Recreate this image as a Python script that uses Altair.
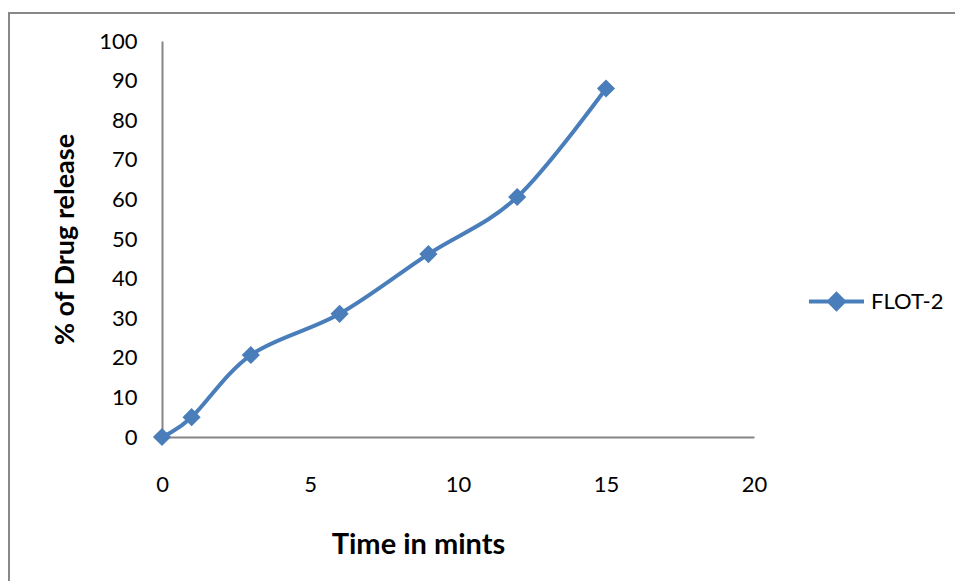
import altair as alt
import pandas as pd

# Dissolution profile of formulation FLOT-2
time_min = [0, 1, 3, 6, 9, 12, 15]
drug_release = [0, 5.0, 20.7, 31.1, 46.2, 60.6, 88.0]
series_name = ["FLOT-2"] * len(time_min)

x_ticks = [0, 5, 10, 15, 20]
y_ticks = [0, 10, 20, 30, 40, 50, 60, 70, 80, 90, 100]

BLUE = "#4A7EBB"
AXIS_GREY = "#868686"
FONT = "Lato"

df = pd.DataFrame({"t": time_min, "r": drug_release, "s": series_name})

x_enc = alt.X(
    "t:Q",
    scale=alt.Scale(domain=[0, 20], nice=False, zero=True),
    axis=alt.Axis(
        values=x_ticks,
        title="Time in mints",
        grid=False,
        ticks=False,
        tickSize=0,
        domainColor=AXIS_GREY,
        domainWidth=2,
        labelFont=FONT,
        labelFontSize=22,
        labelColor="#000000",
        labelPadding=37,
        labelFlush=False,
        labelOverlap=False,
        titleFont=FONT,
        titleFontSize=29,
        titleFontWeight="bold",
        titleColor="#000000",
        titleX=256,
        titleY=116,
        titleBaseline="alphabetic",
        titleAlign="center",
    ),
)

y_enc = alt.Y(
    "r:Q",
    scale=alt.Scale(domain=[0, 100], nice=False),
    axis=alt.Axis(
        values=y_ticks,
        title="% of Drug release",
        grid=False,
        ticks=False,
        tickSize=0,
        domainColor=AXIS_GREY,
        domainWidth=2,
        labelFont=FONT,
        labelFontSize=22,
        labelColor="#000000",
        labelPadding=25,
        labelFlush=False,
        labelOverlap=False,
        titleFont=FONT,
        titleFontSize=27,
        titleFontWeight="bold",
        titleColor="#000000",
        titleAngle=-90,
        titleX=-89,
        titleY=198,
        titleBaseline="alphabetic",
        titleAlign="center",
    ),
)

curve = alt.Chart(df).mark_line(
    interpolate="cardinal", strokeWidth=4, color=BLUE, strokeCap="round"
).encode(x=x_enc, y=y_enc)

markers = alt.Chart(df).mark_point(
    shape="diamond", filled=True, size=330, opacity=1
).encode(
    x=x_enc,
    y=y_enc,
    color=alt.Color(
        "s:N",
        scale=alt.Scale(range=[BLUE]),
        legend=alt.Legend(
            title=None,
            orient="none",
            legendX=645,
            legendY=231,
            symbolType="M-1,0L1,0M0,-0.27L0.27,0L0,0.27L-0.27,0Z",
            symbolSize=3025,
            symbolFillColor=BLUE,
            symbolStrokeColor=BLUE,
            symbolStrokeWidth=4,
            symbolOpacity=1,
            labelFont=FONT,
            labelFontSize=22,
            labelColor="#000000",
            labelOffset=5,
        ),
    ),
)

# Outer frame around the chart
frame = alt.Chart(df).mark_rect(
    fill=None, stroke="#888888", strokeWidth=2
).encode(
    x=alt.value(-153),
    x2=alt.value(830),
    y=alt.value(-28),
    y2=alt.value(580),
)

chart = alt.layer(frame, curve, markers).properties(
    width=592,
    height=396,
    autosize=alt.AutoSizeParams(type="none"),
    padding={"left": 162, "top": 41, "right": 201, "bottom": 144},
    background="white",
).configure_view(stroke=None).configure_axis(labelOverlap=False)

chart.save("out.html", embed_options={"renderer": "svg", "actions": False})
